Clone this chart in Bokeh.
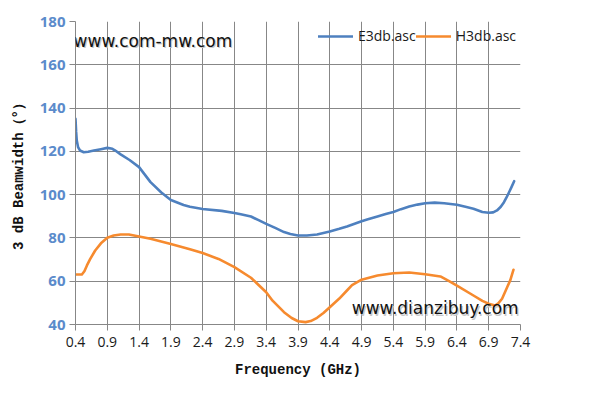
from bokeh.plotting import figure
from bokeh.models import Range1d, FixedTicker, Legend, LegendItem, Label
from bokeh.embed import file_html
from bokeh.resources import INLINE

# ---------------- data ----------------
x_ticks = [0.4, 0.9, 1.4, 1.9, 2.4, 2.9, 3.4, 3.9, 4.4, 4.9, 5.4, 5.9, 6.4, 6.9, 7.4]
y_ticks = [40, 60, 80, 100, 120, 140, 160, 180]

e_freq = [0.40, 0.41, 0.42, 0.44, 0.47, 0.53, 0.60, 0.69, 0.80, 0.90, 0.98, 1.02,
          1.11, 1.25, 1.40, 1.58, 1.75, 1.90, 2.10, 2.20, 2.40, 2.70, 2.90, 3.00,
          3.16, 3.28, 3.40, 3.55, 3.68, 3.78, 3.90, 4.04, 4.20, 4.40, 4.55, 4.67,
          4.90, 5.00, 5.15, 5.28, 5.40, 5.52, 5.65, 5.78, 5.90, 6.05, 6.20, 6.40,
          6.55, 6.66, 6.80, 6.90, 6.97, 7.03, 7.09, 7.14, 7.18, 7.22, 7.26, 7.30]
e3db = [135, 129, 125, 122, 120.4, 119.6, 119.8, 120.4, 121, 121.6, 121.2, 120.5,
        118.6, 116, 112.7, 105.8, 101, 97.5, 95.2, 94.4, 93.4, 92.5, 91.5, 90.9,
        89.9, 88.2, 86.5, 84.5, 82.7, 81.8, 81.1, 81.1, 81.6, 83, 84.2, 85.3,
        87.7, 88.6, 89.9, 91, 92, 93.3, 94.5, 95.4, 96, 96.3, 96, 95.3,
        94.3, 93.5, 92, 91.6, 91.8, 92.7, 94.4, 96.5, 98.7, 101.1, 103.6, 106.2]

h_freq = [0.40, 0.50, 0.54, 0.58, 0.63, 0.71, 0.80, 0.90, 1.00, 1.11, 1.24, 1.40,
          1.58, 1.90, 2.20, 2.40, 2.65, 2.90, 3.16, 3.40, 3.50, 3.68, 3.80, 3.90,
          4.02, 4.10, 4.20, 4.30, 4.40, 4.55, 4.67, 4.75, 4.90, 5.15, 5.40, 5.65,
          5.90, 6.14, 6.27, 6.40, 6.66, 6.80, 6.90, 7.00, 7.05, 7.11, 7.19, 7.24, 7.29]
h3db = [63.1, 63.1, 64.6, 67.3, 70.2, 74.2, 77.5, 80.1, 81.1, 81.6, 81.6, 80.7,
        79.6, 77.2, 74.8, 73, 70.3, 66.5, 61.6, 54.9, 51, 45.7, 43, 41.5,
        41.1, 41.6, 43.1, 45.3, 48, 52, 55.7, 58.2, 60.7, 62.6, 63.7, 64,
        63.2, 62.2, 60.2, 58, 53.4, 50.9, 49.6, 48.8, 49.8, 51.9, 57.2, 60.5, 65.3]

series_names = ["E3db.asc", "H3db.asc"]
x_title = "Frequency (GHz)"
y_title = "3 dB Beamwidth（°）"
watermarks = ["www.com-mw.com", "www.dianzibuy.com"]

# ---------------- figure ----------------
BLUE = "#4E80BF"
ORANGE = "#F68A2E"
GRID = "#878787"

p = figure(width=585, height=398, output_backend="svg", toolbar_location=None,
           x_range=Range1d(0.4, 7.4), y_range=Range1d(40, 180),
           min_border_left=75, min_border_right=65, min_border_top=21,
           min_border_bottom=74)
p.outline_line_color = None
p.background_fill_color = "white"
p.border_fill_color = "white"

p.xaxis.ticker = FixedTicker(ticks=x_ticks)
p.yaxis.ticker = FixedTicker(ticks=y_ticks)
p.xgrid.ticker = FixedTicker(ticks=x_ticks)
p.ygrid.ticker = FixedTicker(ticks=y_ticks)
for g in (p.xgrid, p.ygrid):
    g.grid_line_color = GRID
    g.grid_line_width = 1

for ax in (p.xaxis, p.yaxis):
    ax.axis_line_color = GRID
    ax.major_tick_line_color = GRID
    ax.minor_tick_line_color = None
    ax.major_tick_in = 0
    ax.major_tick_out = 6
    ax.axis_label_text_font = "Liberation Mono"
    ax.axis_label_text_font_style = "bold"
    ax.axis_label_text_font_size = "14px"
    ax.axis_label_text_color = "#111111"

p.xaxis.axis_label = x_title
p.yaxis.axis_label = y_title
p.xaxis.major_label_text_font = "Open Sans"
p.xaxis.major_label_text_font_size = "14px"
p.xaxis.major_label_text_color = "#1a1a1a"
p.xaxis.major_label_standoff = 6
p.xaxis.axis_label_standoff = 12
p.yaxis.major_label_text_font = "Open Sans"
p.yaxis.major_label_text_font_style = "bold"
p.yaxis.major_label_text_font_size = "15px"
p.yaxis.major_label_text_color = "#5B8BCB"
p.yaxis.major_label_standoff = 4
p.yaxis.axis_label_standoff = 10

r1 = p.line(e_freq, e3db, line_color=BLUE, line_width=2.6, line_join="round", line_cap="round")
r2 = p.line(h_freq, h3db, line_color=ORANGE, line_width=2.6, line_join="round", line_cap="round")

legend = Legend(items=[LegendItem(label=series_names[0], renderers=[r1]),
                       LegendItem(label=series_names[1], renderers=[r2])],
                orientation="horizontal", location=(243, 279),
                padding=0, margin=0, spacing=0, label_standoff=5,
                glyph_width=35, glyph_height=16, label_height=16,
                label_text_font="Open Sans", label_text_font_size="14px",
                label_text_color="#1a1a1a",
                border_line_color=None, background_fill_alpha=0)
p.add_layout(legend, "center")

# watermarks (with soft shadow)
for dx, dy, col in ((1.2, -1.2, "#c8c8c8"), (0, 0, "#111111")):
    p.add_layout(Label(x=0.37, y=171.2, text=watermarks[0], text_font="DejaVu Sans",
                       text_font_size="17px", text_color=col, text_baseline="middle",
                       x_offset=dx, y_offset=dy))
    p.add_layout(Label(x=7.37, y=47.4, text=watermarks[1], text_font="DejaVu Sans",
                       text_font_size="17px", text_color=col, text_baseline="middle",
                       text_align="right", x_offset=dx, y_offset=dy))

open("out.html", "w").write(file_html(p, INLINE))
